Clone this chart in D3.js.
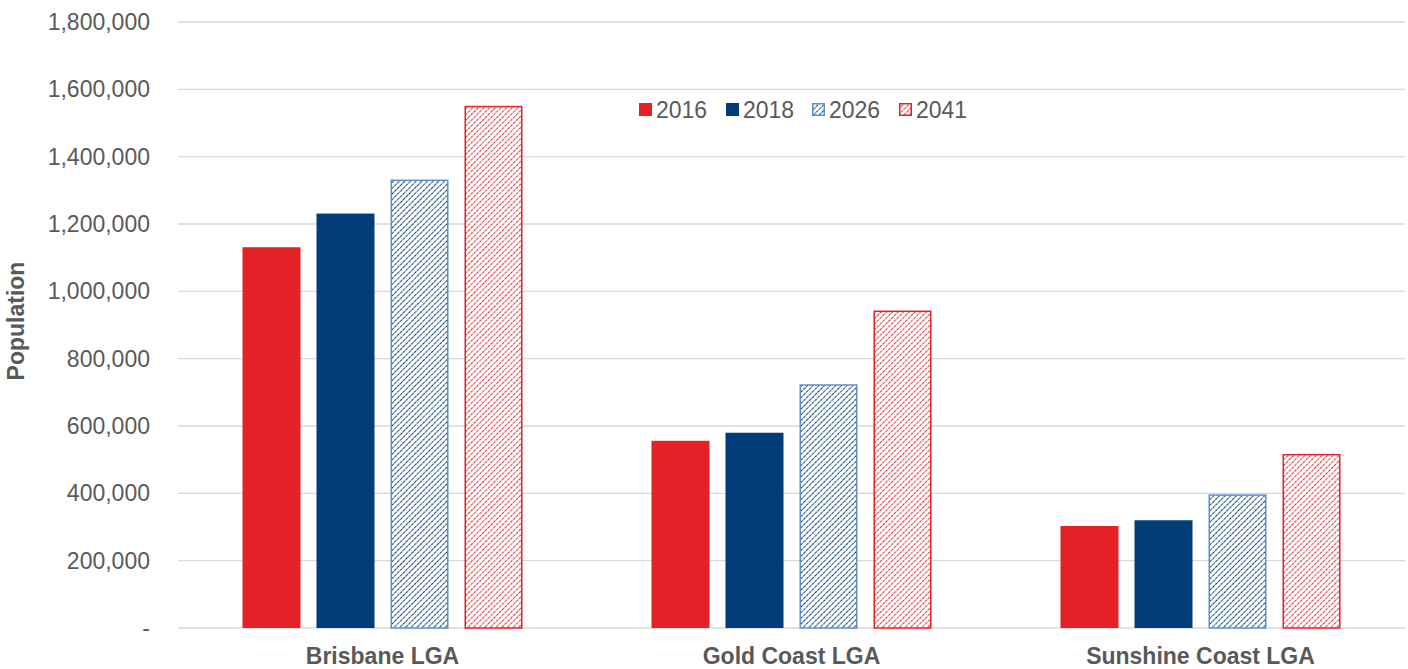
<!DOCTYPE html>
<html>
<head>
<meta charset="utf-8">
<style>
  body { margin: 0; background: #fff; }
  text { font-family: "Liberation Sans", Arial, sans-serif; }
</style>
</head>
<body>
<svg id="chart" width="1408" height="669"></svg>
<script src="https://d3js.org/d3.v7.min.js"></script>
<script>
    // data
    let regions = ['Brisbane LGA', 'Gold Coast LGA', 'Sunshine Coast LGA']
    let years = ['2016', '2018', '2026', '2041']
    let pop2016 = [1131000, 556000, 303000]
    let pop2018 = [1231000, 580000, 320000]
    let pop2026 = [1332000, 724000, 397000]
    let pop2041 = [1551000, 943000, 517000]
    let yTicks = [0, 200000, 400000, 600000, 800000, 1000000, 1200000, 1400000, 1600000, 1800000]

    let seriesVals = [pop2016, pop2018, pop2026, pop2041]

    let svg = d3.select('#chart')
    let plotL = 178, plotR = 1405, plotT = 22, plotB = 628

    let x = d3.scaleBand().domain(regions).range([plotL, plotR]).paddingInner(0).paddingOuter(0)
    let x1 = d3.scaleBand().domain(years).range([64.5, x.bandwidth() - 64.5]).paddingInner(16 / 74)
    let y = d3.scaleLinear().domain([0, 1800000]).range([plotB, plotT])

    // hatch patterns (dotted upward diagonals)
    let defs = svg.append('defs')
    function hatch(id, dark, light) {
        let s = 4
        let p = defs.append('pattern')
            .attr('id', id)
            .attr('patternUnits', 'userSpaceOnUse')
            .attr('width', s).attr('height', s)
            .attr('patternTransform', 'rotate(45)')
        p.append('rect').attr('width', s).attr('height', s).attr('fill', '#fff')
        p.append('line').attr('x1', 0).attr('y1', 0).attr('x2', 0).attr('y2', s)
            .attr('stroke', light).attr('stroke-width', 1.8)
        p.append('line').attr('x1', 0).attr('y1', 0).attr('x2', 0).attr('y2', s)
            .attr('stroke', dark).attr('stroke-width', 1.8).attr('stroke-dasharray', '2,2')
    }
    hatch('hBlue', '#003d78', '#5a7fa8')
    hatch('hRed', '#e42127', '#f08c8f')

    let fills = ['#e42127', '#003d78', 'url(#hBlue)', 'url(#hRed)']
    let strokes = ['none', 'none', '#5f8fc9', '#e42127']

    // gridlines
    svg.append('g').selectAll('line').data(yTicks).join('line')
        .attr('x1', plotL).attr('x2', plotR)
        .attr('y1', d => y(d)).attr('y2', d => y(d))
        .attr('stroke', '#d9d9d9').attr('stroke-width', 1.3)

    // y axis labels
    let yAxis = d3.axisLeft(y).tickValues(yTicks).tickSize(0).tickPadding(0)
        .tickFormat(d => d === 0 ? '-' : d3.format(',')(d))
    let ya = svg.append('g').attr('transform', 'translate(150,0)').call(yAxis)
    ya.select('.domain').remove()
    ya.selectAll('text').attr('font-size', 23).attr('fill', '#595959')
        .style('font-family', '"Liberation Sans", Arial, sans-serif')

    // bars
    regions.forEach((r, i) => {
        let g = svg.append('g').attr('transform', 'translate(' + x(r) + ',0)')
        years.forEach((yr, j) => {
            let v = seriesVals[j][i]
            let hatched = strokes[j] !== 'none'
            g.append('rect')
                .attr('x', x1(yr) + (hatched ? 0.75 : 0))
                .attr('y', y(v) + (hatched ? 0.75 : 0))
                .attr('width', x1.bandwidth() - (hatched ? 1.5 : 0))
                .attr('height', plotB - y(v) - (hatched ? 0.75 : 0))
                .attr('fill', fills[j])
                .attr('stroke', strokes[j])
                .attr('stroke-width', 1.5)
        })
    })

    // x axis labels
    let xAxis = d3.axisBottom(x).tickSize(0).tickPadding(0)
    let xa = svg.append('g').attr('transform', 'translate(0,' + 648 + ')').call(xAxis)
    xa.select('.domain').remove()
    xa.selectAll('text').attr('font-size', 23).attr('font-weight', 'bold').attr('fill', '#595959')
        .style('font-family', '"Liberation Sans", Arial, sans-serif')

    // y title
    svg.append('text')
        .attr('transform', 'translate(24,' + 321 + ') rotate(-90)')
        .attr('text-anchor', 'middle')
        .attr('font-size', 23).attr('font-weight', 'bold').attr('fill', '#595959')
        .text('Population')

    // legend
    let legX = [639, 726, 812, 899]
    let leg = svg.append('g')
    years.forEach((yr, j) => {
        let hatched = strokes[j] !== 'none'
        leg.append('rect')
            .attr('x', legX[j] + (hatched ? 0.75 : 0)).attr('y', 103 + (hatched ? 0.75 : 0))
            .attr('width', hatched ? 11.5 : 13).attr('height', hatched ? 11.5 : 13)
            .attr('fill', fills[j]).attr('stroke', strokes[j]).attr('stroke-width', 1.5)
        leg.append('text')
            .attr('x', legX[j] + 17).attr('y', 118)
            .attr('font-size', 23).attr('fill', '#595959')
            .text(yr)
    })
</script>
</body>
</html>
